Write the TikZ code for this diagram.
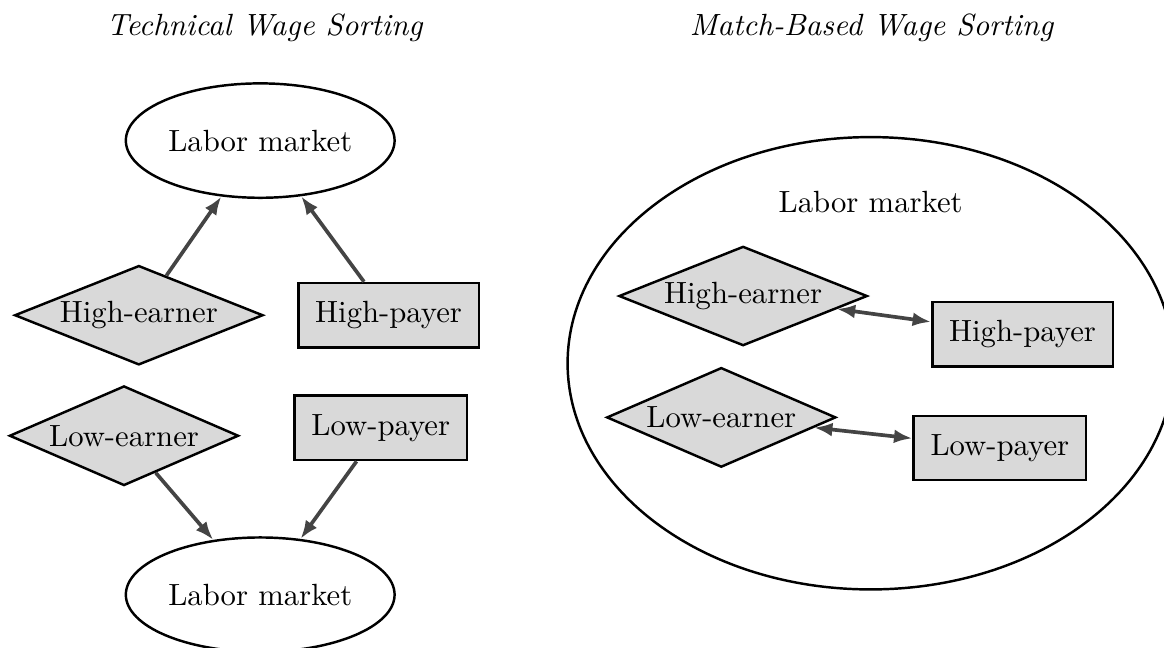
\documentclass[tikz,border=0pt]{standalone}
\usetikzlibrary{shapes.geometric,arrows.meta}

\definecolor{nodegray}{HTML}{D9D9D9}
\definecolor{edgegray}{HTML}{444444}

\tikzset{
    market/.style={ellipse, draw, thick, minimum width=3.05cm, minimum height=1.31cm, inner sep=1pt},
    earner/.style={diamond, draw, thick, fill=nodegray, aspect=2.5, inner sep=1pt},
    lowearner/.style={earner, aspect=2.3, inner sep=1.5pt},
    payer/.style={rectangle, draw, thick, fill=nodegray, inner sep=5.5pt, minimum height=21pt},
    link/.style={draw=edgegray, very thick},
    title/.style={font=\itshape},
    >={Latex[length=6pt,width=4.5pt]}
}

\begin{document}
\begin{tikzpicture}
    \useasboundingbox (0,0) rectangle (13.33,7.41);

    % Titles
    \node[title] (titleL) at (3.03,7.09) {Technical Wage Sorting};
    \node[title] (titleR) at (9.98,7.09) {Match-Based Wage Sorting};

    % Technical sorting: both sides meet the market
    \node[market] (topMarket) at (2.98,5.80) {Labor market};
    \node[market] (botMarket) at (2.98,0.60) {Labor market};
    \node[earner]    (hiEarnL) at (1.59,3.80) {High-earner};
    \node[payer]     (hiPayL)  at (4.45,3.80) {High-payer};
    \node[lowearner] (loEarnL) at (1.42,2.42) {Low-earner};
    \node[payer]     (loPayL)  at (4.36,2.51) {Low-payer};

    \draw[link,->] (hiEarnL) -- (topMarket);
    \draw[link,->] (hiPayL) -- (topMarket);
    \draw[link,->] (loEarnL) -- (botMarket);
    \draw[link,->] (loPayL) -- (botMarket);

    % Match-based sorting: one market around the pairs
    \node[market, minimum width=6.94cm, minimum height=5.18cm] (bigMarket) at (9.97,3.25) {};
    \node (bigLabel) at (9.97,5.10) {Labor market};
    \node[earner]    (hiEarnR) at (8.51,4.02) {High-earner};
    \node[payer]     (hiPayR)  at (11.71,3.58) {High-payer};
    \node[lowearner] (loEarnR) at (8.26,2.63) {Low-earner};
    \node[payer]     (loPayR)  at (11.45,2.28) {Low-payer};

    \foreach \a/\b in {hiEarnR/hiPayR, loEarnR/loPayR} {
        \draw[link,<->] (\a) -- (\b);
    }
\end{tikzpicture}
\end{document}
